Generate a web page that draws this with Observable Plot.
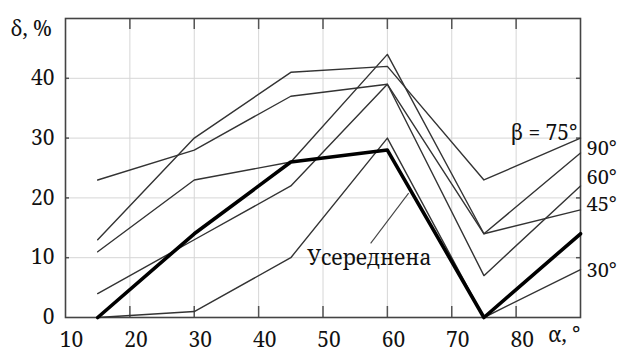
<!DOCTYPE html>
<html><head><meta charset="utf-8">
<script src="https://cdn.jsdelivr.net/npm/d3@7"></script>
<script src="https://cdn.jsdelivr.net/npm/@observablehq/plot@0.6"></script>
<style>
body{margin:0;background:#fff}
#chart svg{display:block}
</style>
</head><body><div id="chart"></div>
<script>
const alpha = [15, 30, 45, 60, 75, 90];
const beta30 = [0, 1, 10, 30, 0, 8];
const beta45 = [23, 28, 37, 39, 14, 18];
const beta60 = [4, 13, 22, 39, 7, 22];
const beta75 = [13, 30, 41, 42, 23, 30];
const beta90 = [11, 23, 26, 44, 14, 27.5];
const averaged = [0, 14, 26, 28, 0, 14];
const xTicks = [10, 20, 30, 40, 50, 60, 70, 80];
const yTicks = [0, 10, 20, 30, 40];
const xGrid = [20, 30, 40, 50, 60, 70, 80];
const yGrid = [10, 20, 30, 40];
const seriesNames = ["β = 75°", "90°", "60°", "45°", "30°"];
const labelY = [30.8, 28.3, 23.4, 18.9, 7.9];
const avgLabel = "Усереднена";
const avgLabelPos = {x: 57.2, y: 9.9};
const leader = {x1: 57.4, y1: 12.4, x2: 63.3, y2: 20.8};

const thin = [
  {name: "30°", v: beta30},
  {name: "45°", v: beta45},
  {name: "60°", v: beta60},
  {name: "β = 75°", v: beta75},
  {name: "90°", v: beta90}
].flatMap(s => s.v.map((y, i) => ({series: s.name, x: alpha[i], y})));
const avg = averaged.map((y, i) => ({x: alpha[i], y}));
const labels = seriesNames.map((n, i) => ({name: n, y: labelY[i], right: n.startsWith("β")}));

const W = 620, H = 354, ml = 65, mr = 40, mt = 18, mb = 37;
const fw = W - ml - mr, fh = H - mt - mb;
const FF = "Noto Serif, DejaVu Serif";
const FS = 21;

const chart = Plot.plot({
  width: W, height: H,
  marginLeft: ml, marginRight: mr, marginTop: mt, marginBottom: mb,
  style: "font-family: 'DejaVu Serif', serif; font-size: 21px; color: #222; background: #fff;",
  x: {domain: [10, 90]},
  y: {domain: [0, 50]},
  marks: [
    Plot.ruleX(xGrid, {stroke: "#d6d6d6", strokeWidth: 1}),
    Plot.ruleY(yGrid, {stroke: "#d6d6d6", strokeWidth: 1}),
    Plot.ruleX(xGrid, {insetTop: fh - 11, stroke: "#555", strokeWidth: 1.5}),
    Plot.ruleX(xGrid, {insetBottom: fh - 11, stroke: "#555", strokeWidth: 1.5}),
    Plot.ruleY(yGrid, {insetRight: fw - 4, stroke: "#555", strokeWidth: 1.5}),
    Plot.ruleY(yGrid, {insetLeft: fw - 4, stroke: "#555", strokeWidth: 1.5}),
    Plot.frame({stroke: "#444", strokeWidth: 1.6}),
    Plot.axisX(xTicks, {tickSize: 0, tickPadding: 15, dx: 6, fontSize: FS, fontFamily: FF, fill: "#111", label: null}),
    Plot.axisY(yTicks, {tickSize: 0, tickPadding: 11, fontSize: FS, fontFamily: FF, fill: "#111", label: null}),
    Plot.line(thin, {x: "x", y: "y", z: "series", stroke: "#333", strokeWidth: 1.4}),
    Plot.line(avg, {x: "x", y: "y", stroke: "#000", strokeWidth: 3.6}),
    Plot.link([leader], {x1: "x1", y1: "y1", x2: "x2", y2: "y2", stroke: "#444", strokeWidth: 1.1}),
    Plot.text([avgLabel], {x: avgLabelPos.x, y: avgLabelPos.y, text: d => d, fontSize: FS, fontFamily: FF, fill: "#111"}),
    Plot.text(labels.filter(d => d.right), {x: () => 90, y: "y", text: "name", textAnchor: "end", dx: -3, fontSize: FS, fontFamily: FF, fill: "#111"}),
    Plot.text(labels.filter(d => !d.right), {x: () => 90, y: "y", text: "name", textAnchor: "start", dx: 6, fontSize: 20, fontFamily: FF, fill: "#111"}),
    Plot.text(["δ, %"], {frameAnchor: "top-left", text: d => d, textAnchor: "start", dx: -55, dy: 3, fontSize: FS, fontFamily: FF, fill: "#111"}),
    Plot.text(["α, °"], {frameAnchor: "bottom-right", text: d => d, textAnchor: "end", dy: 24.5, fontSize: FS, fontFamily: FF, fill: "#111"})
  ]
});
document.getElementById("chart").appendChild(chart);
</script>
</body></html>
